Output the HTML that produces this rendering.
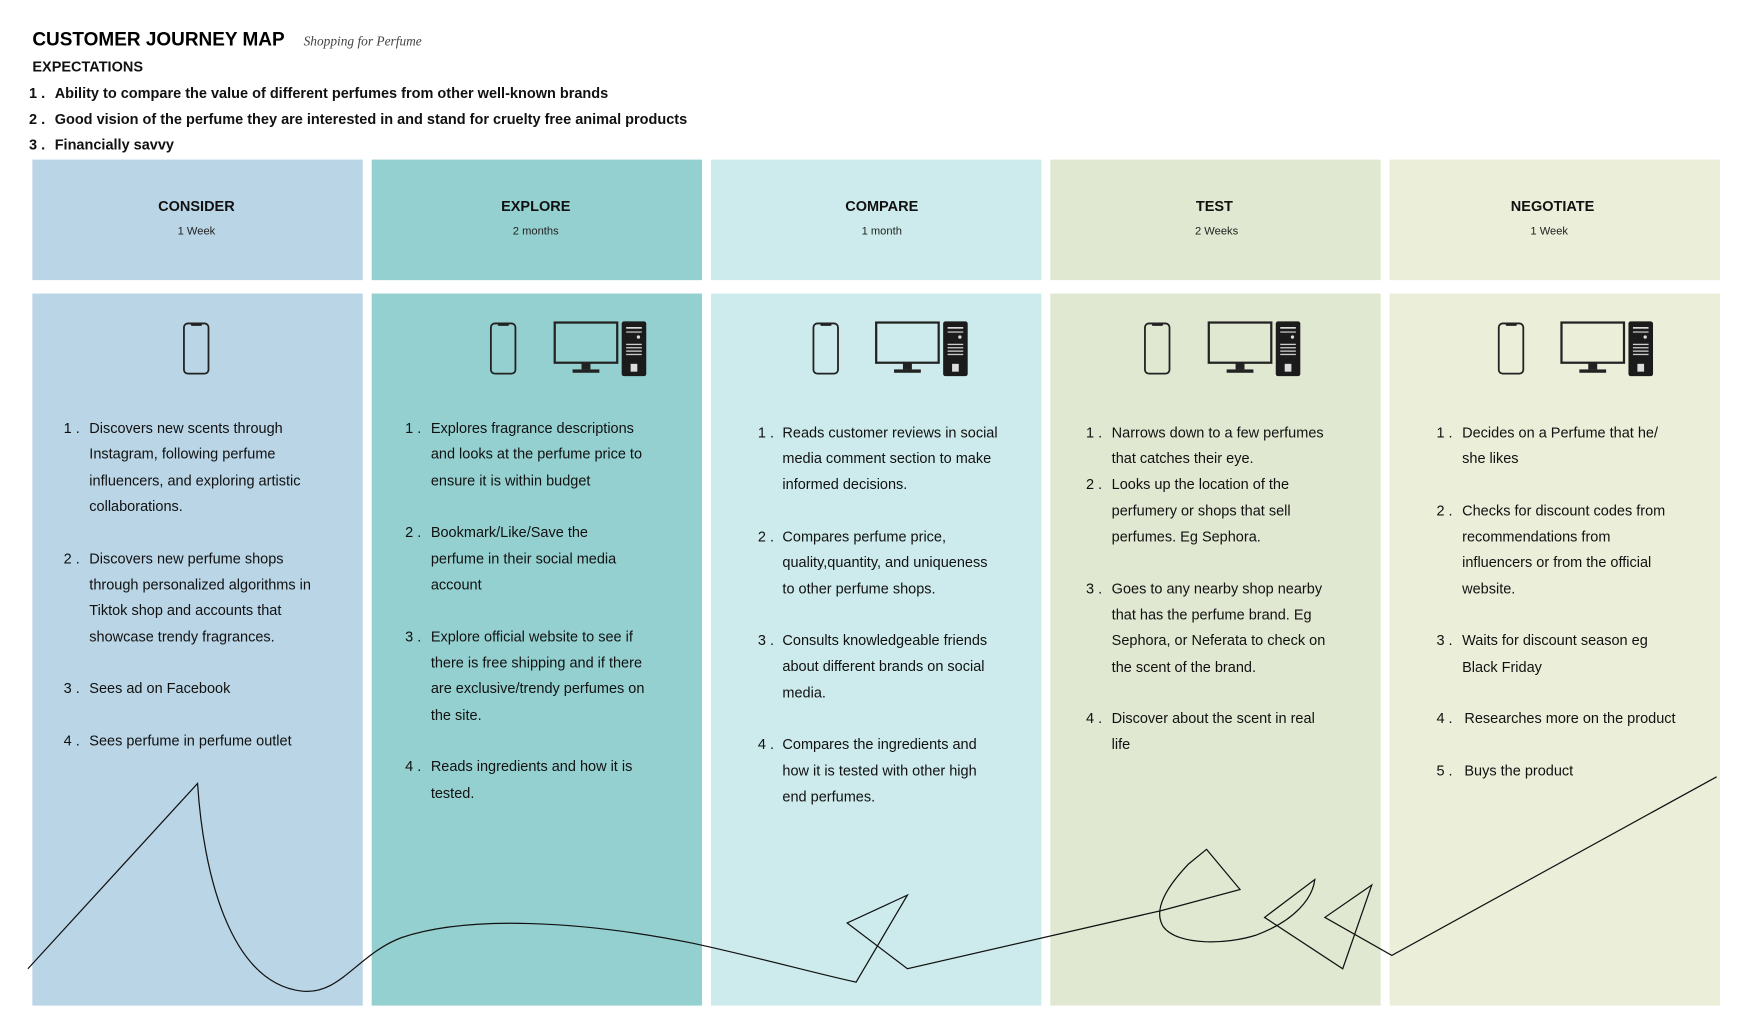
<!DOCTYPE html>
<html><head><meta charset="utf-8"><style>
html,body{margin:0;padding:0;background:#fff;}
svg{display:block;font-family:"Liberation Sans",sans-serif;}
.t{font-size:13px;fill:#111;}
.h{font-size:13px;font-weight:bold;fill:#111;}
.s{font-size:10px;fill:#222;}
.e{font-size:13px;font-weight:bold;fill:#111;}
</style></head><body>
<svg width="1749" height="1024" viewBox="0 0 1567 917.5" preserveAspectRatio="none">
<defs>
<g id="phone"><rect x="0.8" y="0.8" width="22" height="45" rx="3.5" fill="none" stroke="#222" stroke-width="1.6"/><rect x="7" y="1" width="10" height="2" rx="1" fill="#222"/></g>
<g id="pc"><rect x="1" y="1" width="56" height="36" fill="none" stroke="#222" stroke-width="2"/><rect x="25" y="37" width="8" height="6" fill="#222"/><rect x="17" y="43" width="24" height="3" fill="#222"/>
<rect x="61" y="0" width="22" height="49" rx="2" fill="#1b1b1b"/><rect x="65" y="5" width="14" height="1.5" fill="#ddd"/><rect x="65" y="9" width="14" height="1" fill="#ddd"/><circle cx="76" cy="14" r="1.5" fill="#ddd"/><rect x="65" y="20" width="14" height="1.2" fill="#ccc"/><rect x="65" y="23" width="14" height="1.2" fill="#ccc"/><rect x="65" y="26" width="14" height="1.2" fill="#ccc"/><rect x="65" y="29" width="14" height="1.2" fill="#ccc"/><rect x="69" y="38" width="6" height="7" fill="#ddd"/></g>
</defs>
<text x="29" y="41" style="font-size:17px;font-weight:bold">CUSTOMER JOURNEY MAP</text>
<text x="272" y="41" style="font-family:'Liberation Serif',serif;font-style:italic;font-size:12px;fill:#444">Shopping for Perfume</text>
<text x="29" y="64" class="e">EXPECTATIONS</text>
<g>
<text x="26" y="88" class="e">1 .</text><text x="49" y="88" class="e">Ability to compare the value of different perfumes from other well-known brands</text>
<text x="26" y="111" class="e">2 .</text><text x="49" y="111" class="e">Good vision of the perfume they are  interested in and stand for cruelty free animal products</text>
<text x="26" y="134" class="e">3 .</text><text x="49" y="134" class="e">Financially savvy</text>
</g>
<rect x="29" y="143" width="296" height="108" fill="#b9d5e6"/>
<rect x="333" y="143" width="296" height="108" fill="#94d0d0"/>
<rect x="637" y="143" width="296" height="108" fill="#cdebec"/>
<rect x="941" y="143" width="296" height="108" fill="#e1e8d1"/>
<rect x="1245" y="143" width="296" height="108" fill="#ebeed9"/>
<rect x="29" y="263" width="296" height="638" fill="#b9d5e6"/>
<rect x="333" y="263" width="296" height="638" fill="#94d0d0"/>
<rect x="637" y="263" width="296" height="638" fill="#cdebec"/>
<rect x="941" y="263" width="296" height="638" fill="#e1e8d1"/>
<rect x="1245" y="263" width="296" height="638" fill="#ebeed9"/>
<g text-anchor="middle">
<text x="176" y="189" class="h">CONSIDER</text><text x="176" y="210" class="s">1 Week</text>
<text x="480" y="189" class="h">EXPLORE</text><text x="480" y="210" class="s">2 months</text>
<text x="790" y="189" class="h">COMPARE</text><text x="790" y="210" class="s">1 month</text>
<text x="1088" y="189" class="h">TEST</text><text x="1090" y="210" class="s">2 Weeks</text>
<text x="1391" y="189" class="h">NEGOTIATE</text><text x="1388" y="210" class="s">1 Week</text>
</g>
<use href="#phone" x="164" y="289"/>
<use href="#phone" x="439" y="289"/>
<use href="#pc" x="496" y="288"/>
<use href="#phone" x="728" y="289"/>
<use href="#pc" x="784" y="288"/>
<use href="#phone" x="1025" y="289"/>
<use href="#pc" x="1082" y="288"/>
<use href="#phone" x="1342" y="289"/>
<use href="#pc" x="1398" y="288"/>
<g class="t">
<text x="57" y="388">1 .</text><text x="80" y="388">Discovers new scents through</text><text x="80" y="411">Instagram, following perfume</text><text x="80" y="435">influencers, and exploring artistic</text><text x="80" y="458">collaborations.</text>
<text x="57" y="505">2 .</text><text x="80" y="505">Discovers new perfume shops</text><text x="80" y="528">through personalized algorithms in</text><text x="80" y="551">Tiktok shop and accounts that</text><text x="80" y="575">showcase trendy fragrances.</text>
<text x="57" y="621">3 .</text><text x="80" y="621">Sees ad on Facebook</text>
<text x="57" y="668">4 .</text><text x="80" y="668">Sees perfume in perfume outlet</text>
</g>
<g class="t">
<text x="363" y="388">1 .</text><text x="386" y="388">Explores fragrance descriptions</text><text x="386" y="411">and looks at the perfume price to</text><text x="386" y="435">ensure it is within budget</text>
<text x="363" y="481">2 .</text><text x="386" y="481">Bookmark/Like/Save the</text><text x="386" y="505">perfume in their social media</text><text x="386" y="528">account</text>
<text x="363" y="575">3 .</text><text x="386" y="575">Explore official website to  see if</text><text x="386" y="598">there is free shipping and if there</text><text x="386" y="621">are exclusive/trendy perfumes on</text><text x="386" y="645">the site.</text>
<text x="363" y="691">4 .</text><text x="386" y="691">Reads ingredients and how it is</text><text x="386" y="715">tested.</text>
</g>
<g class="t">
<text x="679" y="392">1 .</text><text x="701" y="392">Reads customer reviews in social</text><text x="701" y="415">media comment section to make</text><text x="701" y="438">informed decisions.</text>
<text x="679" y="485">2 .</text><text x="701" y="485">Compares perfume price,</text><text x="701" y="508">quality,quantity, and uniqueness</text><text x="701" y="532">to other perfume shops.</text>
<text x="679" y="578">3 .</text><text x="701" y="578">Consults knowledgeable friends</text><text x="701" y="601">about different brands on social</text><text x="701" y="625">media.</text>
<text x="679" y="671">4 .</text><text x="701" y="671">Compares the ingredients and</text><text x="701" y="695">how it is tested with other high</text><text x="701" y="718">end perfumes.</text>
</g>
<g class="t">
<text x="973" y="392">1 .</text><text x="996" y="392">Narrows down to a few perfumes</text><text x="996" y="415">that catches their eye.</text>
<text x="973" y="438">2 .</text><text x="996" y="438">Looks up the location of the</text><text x="996" y="462">perfumery or shops that sell</text><text x="996" y="485">perfumes. Eg Sephora.</text>
<text x="973" y="532">3 .</text><text x="996" y="532">Goes to any nearby shop nearby</text><text x="996" y="555">that has the  perfume brand. Eg</text><text x="996" y="578">Sephora, or Neferata to check on</text><text x="996" y="602">the scent of the brand.</text>
<text x="973" y="648">4 .</text><text x="996" y="648">Discover about the scent in real</text><text x="996" y="671">life</text>
</g>
<g class="t">
<text x="1287" y="392">1 .</text><text x="1310" y="392">Decides on a  Perfume that he/</text><text x="1310" y="415">she likes</text>
<text x="1287" y="462">2 .</text><text x="1310" y="462">Checks for discount codes from</text><text x="1310" y="485">recommendations from</text><text x="1310" y="508">influencers or from the official</text><text x="1310" y="532">website.</text>
<text x="1287" y="578">3 .</text><text x="1310" y="578">Waits for discount season eg</text><text x="1310" y="602">Black Friday</text>
<text x="1287" y="648">4 .</text><text x="1312" y="648">Researches more on the product</text>
<text x="1287" y="695">5 .</text><text x="1312" y="695">Buys the product</text>
</g>
<path d="M25,868 L177,702 C182,780 205,880 270,888 C305,892 320,855 360,840 C420,820 520,825 620,845 C680,858 730,872 767,880 L813,802 L759,827 L813,868 L1040,816 L1111,797 L1081,761 L1065,774 C1045,795 1033,815 1042,830 C1055,848 1100,846 1125,838 C1160,825 1176,805 1178,788 L1133,822 L1203,868 L1229,793 L1187,822 L1247,856 L1538,696" fill="none" stroke="#111" stroke-width="1.1"/>
</svg>
</body></html>
